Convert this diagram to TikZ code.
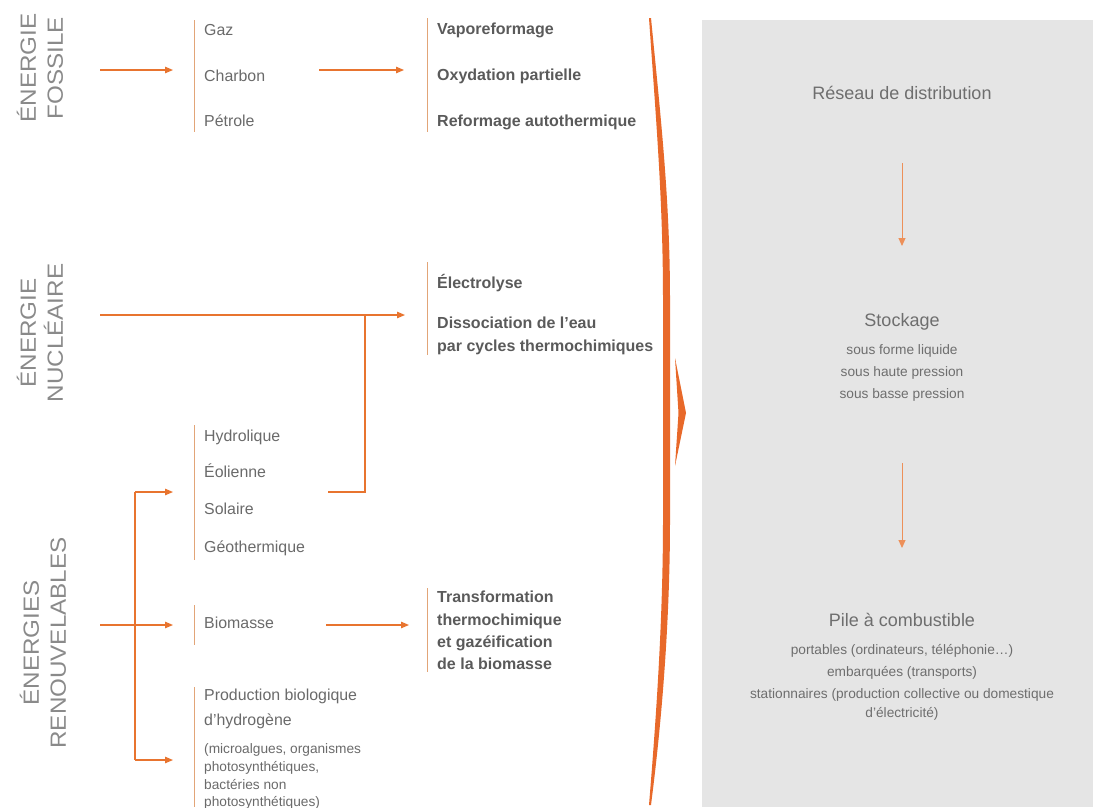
\documentclass[tikz,border=0pt]{standalone}
\usepackage{fontspec}
\setmainfont{Liberation Sans}
\newfontfamily\catfont{Liberation Sans}[FakeStretch=1.1]
\usetikzlibrary{arrows.meta}
\definecolor{orng}{HTML}{E8742F}
\definecolor{brace}{HTML}{E8692A}
\definecolor{tan}{HTML}{E2A578}
\definecolor{panel}{HTML}{E5E5E5}
\definecolor{cattxt}{HTML}{8A8A8A}
\definecolor{itemtxt}{HTML}{6A6A6A}
\definecolor{boldtxt}{HTML}{5A5A5A}
\definecolor{paneltxt}{HTML}{6E6E6E}
\tikzset{
  cat/.style={rotate=90, align=center, text=cattxt, inner sep=0pt,
    font=\catfont\fontsize{22}{27}\selectfont},
  item/.style={anchor=base west, inner sep=0pt, text=itemtxt,
    font=\fontsize{15.9}{18}\selectfont},
  smallitem/.style={anchor=base west, inner sep=0pt, text=itemtxt,
    font=\fontsize{13.7}{16}\selectfont},
  proc/.style={anchor=base west, inner sep=0pt, text=boldtxt,
    font=\bfseries\fontsize{16}{18}\selectfont},
  ptitle/.style={anchor=base, inner sep=0pt, text=paneltxt,
    font=\fontsize{18}{21}\selectfont},
  psub/.style={anchor=base, inner sep=0pt, text=paneltxt,
    font=\fontsize{13.7}{15}\selectfont},
  flow/.style={draw=orng, line width=1.2pt, -{Triangle[length=8pt,width=6.5pt]}},
  flowline/.style={draw=orng, line width=1.2pt},
  pflow/.style={draw=orng!80, line width=1pt, -{Triangle[length=8pt,width=7pt]}},
  bracket/.style={draw=tan, line width=1pt},
}
\begin{document}
\begin{tikzpicture}[x=1pt,y=-1pt]
\useasboundingbox (0,0) rectangle (1093,807);
% right panel
\fill[panel] (702,20) rectangle (1093,807);

% category labels
\node[cat] (catF) at (40,68) {ÉNERGIE\\FOSSILE};
\node[cat] (catN) at (40,333) {ÉNERGIE\\NUCLÉAIRE};
\node[cat] (catR) at (43,643) {ÉNERGIES\\RENOUVELABLES};

% fossil sources
\draw[bracket] (194,20) -- (194,132);
\node[item] (gaz) at (204,35) {Gaz};
\node[item] (charbon) at (204,81) {Charbon};
\node[item] (petrole) at (204,126) {Pétrole};
% fossil processes
\draw[bracket] (427,18) -- (427,132);
\node[proc] (vapo) at (437,34) {Vaporeformage};
\node[proc] (oxy) at (437,80) {Oxydation partielle};
\node[proc] (reform) at (437,126) {Reformage autothermique};

\coordinate (fA) at (100,70);
\coordinate (fB) at (173,70);
\coordinate (fC) at (319,70);
\coordinate (fD) at (404,70);
\draw[flow] (fA) -- (fB);
\draw[flow] (fC) -- (fD);

% nuclear
\draw[bracket] (427,262) -- (427,355);
\node[proc] (elec) at (437,288) {Électrolyse};
\node[proc] (diss1) at (437,328) {Dissociation de l’eau};
\node[proc] (diss2) at (437,351) {par cycles thermochimiques};
\coordinate (nA) at (100,315);
\coordinate (nB) at (405,315);
\coordinate (nJ) at (365,315);
\draw[flow] (nA) -- (nB);

% renewables
\draw[bracket] (194,425) -- (194,560);
\node[item] (hydro) at (204,441) {Hydrolique};
\node[item] (eol) at (204,477) {Éolienne};
\node[item] (sol) at (204,514) {Solaire};
\node[item] (geo) at (204,552) {Géothermique};
\coordinate (sOut) at (328,492);
\draw[flowline] (sOut) -| (nJ);

\draw[bracket] (194,605) -- (194,645);
\node[item] (bio) at (204,628) {Biomasse};

\draw[bracket] (194,687) -- (194,807);
\node[item] (prod1) at (204,700) {Production biologique};
\node[item] (prod2) at (204,725) {d’hydrogène};
\node[smallitem] (prod3) at (204,753) {(microalgues, organismes};
\node[smallitem] (prod4) at (204,771) {photosynthétiques,};
\node[smallitem] (prod5) at (204,789) {bactéries non};
\node[smallitem] (prod6) at (204,806) {photosynthétiques)};

\coordinate (rA) at (100,625);
\coordinate (rB) at (173,625);
\coordinate (rTop) at (135,492);
\coordinate (rBot) at (135,760);
\coordinate (rTopEnd) at (173,492);
\coordinate (rBotEnd) at (173,760);
\draw[flow] (rA) -- (rB);
\draw[flowline] (rTop) -- (rBot);
\draw[flow] (rTop) -- (rTopEnd);
\draw[flow] (rBot) -- (rBotEnd);

\coordinate (bA) at (326,625);
\coordinate (bB) at (409,625);
\draw[flow] (bA) -- (bB);
\draw[bracket] (427,588) -- (427,672);
\node[proc] (tr1) at (437,602) {Transformation};
\node[proc] (tr2) at (437,625) {thermochimique};
\node[proc] (tr3) at (437,647) {et gazéification};
\node[proc] (tr4) at (437,669) {de la biomasse};

% big brace
\fill[brace] (649,18) .. controls (656,120) and (663,200) .. (663,300)
  -- (663,520) .. controls (663,620) and (656,720) .. (649,805)
  -- (651,805) .. controls (662,720) and (670,620) .. (670,520)
  -- (670,300) .. controls (670,200) and (661,120) .. (651,18) -- cycle;
\fill[brace] (675,358) -- (686,413) -- (675,466) -- (678.5,413) -- cycle;

% panel content
\node[ptitle] (reseau) at (902,99) {Réseau de distribution};
\coordinate (a1s) at (902,163);
\coordinate (a1e) at (902,246);
\draw[pflow] (a1s) -- (a1e);
\node[ptitle] (stock) at (902,326) {Stockage};
\node[psub] (st1) at (902,354) {sous forme liquide};
\node[psub] (st2) at (902,376) {sous haute pression};
\node[psub] (st3) at (902,398) {sous basse pression};
\coordinate (a2s) at (902,463);
\coordinate (a2e) at (902,548);
\draw[pflow] (a2s) -- (a2e);
\node[ptitle] (pile) at (902,626) {Pile à combustible};
\node[psub] (p1) at (902,654) {portables (ordinateurs, téléphonie…)};
\node[psub] (p2) at (902,676) {embarquées (transports)};
\node[psub] (p3) at (902,698) {stationnaires (production collective ou domestique};
\node[psub] (p4) at (902,717) {d’électricité)};
\end{tikzpicture}
\end{document}
